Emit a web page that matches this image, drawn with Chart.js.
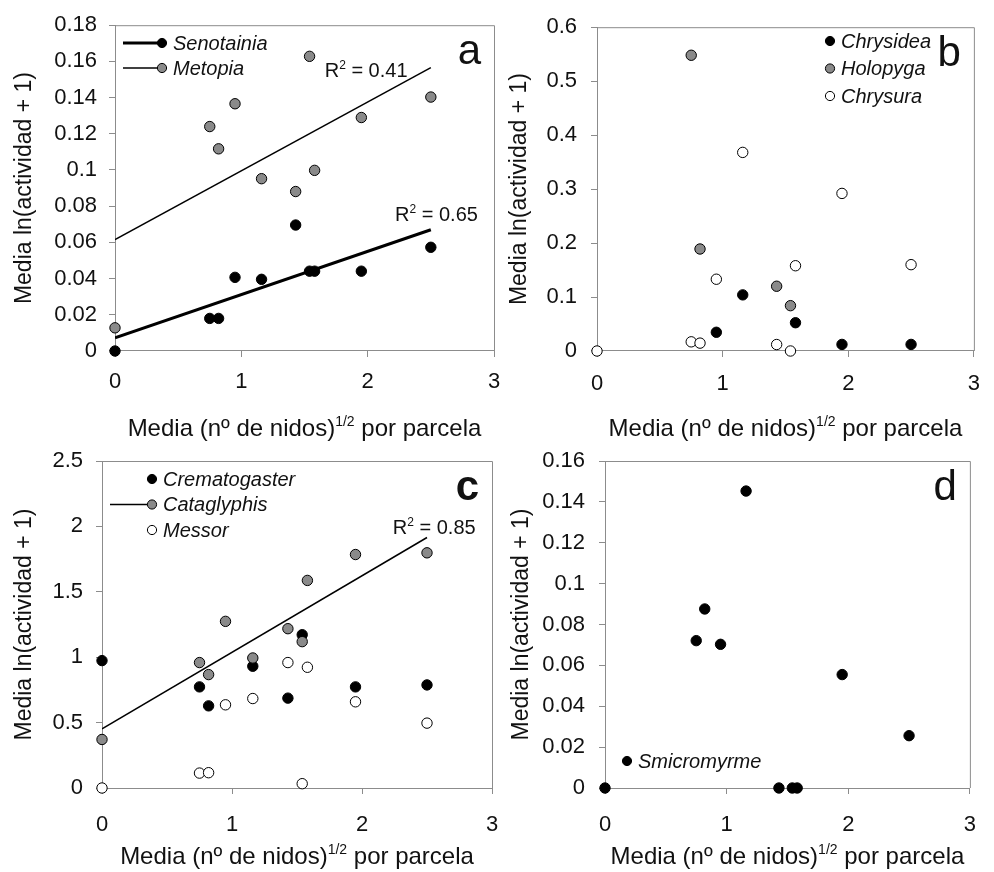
<!DOCTYPE html>
<html>
<head>
<meta charset="utf-8">
<script src="https://cdn.jsdelivr.net/npm/chart.js@4.4.1/dist/chart.umd.min.js"></script>
<style>
  html, body { margin: 0; padding: 0; background: #fff; }
  #wrap { position: relative; width: 994px; height: 872px; }
  #wrap canvas { position: absolute; left: 0; top: 0; }
</style>
</head>
<body>
<div id="wrap">
  <canvas id="chartA" width="994" height="872"></canvas>
  <canvas id="chartB" width="994" height="872"></canvas>
  <canvas id="chartC" width="994" height="872"></canvas>
  <canvas id="chartD" width="994" height="872"></canvas>
</div>
<script>
// x positions shared by every panel: mean (nests)^1/2 per plot
const sites = [0, 0.75, 0.82, 0.95, 1.16, 1.43, 1.54, 1.58, 1.95, 2.5];
const xTicks = [0, 1, 2, 3];
const trendX = [0, 2.5];

// a - parasitic flies
const senotainia = [0, 0.018, 0.018, 0.0407, 0.0396, 0.0696, 0.0441, 0.0441, 0.0441, 0.0573];
const metopia = [0.0128, 0.124, 0.1117, 0.1366, 0.0952, 0.0881, 0.1628, 0.0998, 0.129, 0.1403];
const senotainiaTrend = [0.0073, 0.067];
const metopiaTrend = [0.0615, 0.1566];
const yTicksA = [0, 0.02, 0.04, 0.06, 0.08, 0.1, 0.12, 0.14, 0.16, 0.18];

// b - cuckoo wasps
const chrysidea = [null, null, null, 0.0347, 0.104, null, null, 0.0524, 0.0122, 0.0122];
const holopyga = [null, 0.548, 0.189, null, null, 0.12, 0.084, null, null, null];
const chrysura = [0, 0.017, 0.0146, 0.133, 0.368, 0.012, 0, 0.158, 0.292, 0.16];
const yTicksB = [0, 0.1, 0.2, 0.3, 0.4, 0.5, 0.6];

// c - ants
const crematogaster = [0.974, 0.773, 0.628, null, 0.931, 0.687, 1.172, null, 0.773, 0.788];
const cataglyphis = [0.371, 0.959, 0.867, 1.274, 0.994, 1.218, 1.119, 1.587, 1.785, 1.798];
const messor = [0, 0.114, 0.117, 0.636, 0.684, 0.959, 0.033, 0.923, 0.659, 0.496];
const cataglyphisTrend = [0.453, 1.915];
const yTicksC = [0, 0.5, 1, 1.5, 2, 2.5];

// d - velvet ants
const smicromyrme = [0, 0.0721, 0.0876, 0.0703, 0.1453, 0, 0, 0, 0.0555, 0.0256];
const yTicksD = [0, 0.02, 0.04, 0.06, 0.08, 0.1, 0.12, 0.14, 0.16];

const FONT = "'Liberation Sans', Arial, sans-serif";
const AXIS = '#8c8c8c';
const GREY = '#8a8a8a';
const W = 994, H = 872;

Chart.defaults.font.family = FONT;
Chart.defaults.color = '#111';

function pts(xs, ys) {
  return xs.map((x, i) => ({ x: x, y: ys[i] })).filter(p => p.y !== null);
}

function markers(label, ys, fill, order) {
  return {
    type: 'scatter', label: label, data: pts(sites, ys),
    backgroundColor: fill, borderColor: '#000', borderWidth: 1,
    pointRadius: 5.2, pointHoverRadius: 5.2, clip: false, order: order
  };
}

function trend(label, ys, width) {
  return {
    type: 'line', label: label, data: pts(trendX, ys),
    borderColor: '#000', borderWidth: width, pointRadius: 0,
    fill: false, showLine: true, order: 10
  };
}

function supText(ctx, parts, x, y, align) {
  // parts: [text, isSup, font, raise]
  const widths = parts.map(p => { ctx.font = p[2]; return ctx.measureText(p[0]).width; });
  const total = widths.reduce((a, b) => a + b, 0);
  let cx = align === 'center' ? x - total / 2 : x;
  ctx.textAlign = 'left';
  parts.forEach((p, i) => {
    ctx.font = p[2];
    ctx.fillText(p[0], cx, p[1] ? y - p[3] : y);
    cx += widths[i];
  });
}

const panelDecor = {
  id: 'panelDecor',
  afterDraw(chart, args, opts) {
    const ctx = chart.ctx;
    const a = chart.chartArea;
    const xs = chart.scales.x, ys = chart.scales.y;
    ctx.save();
    // top and right frame
    ctx.strokeStyle = AXIS;
    ctx.lineWidth = 1;
    ctx.beginPath();
    ctx.moveTo(a.left, a.top + 0.5);
    ctx.lineTo(a.right + 0.5, a.top + 0.5);
    ctx.lineTo(a.right + 0.5, a.bottom);
    ctx.stroke();

    ctx.fillStyle = '#111';
    ctx.textBaseline = 'alphabetic';
    // x title with superscript
    supText(ctx, [
      ['Media (nº de nidos)', false, '24px ' + FONT],
      ['1/2', true, '14px ' + FONT, 10],
      [' por parcela', false, '24px ' + FONT]
    ], (a.left + a.right) / 2, opts.xTitleY, 'center');

    // panel letter
    ctx.font = (opts.letterBold ? 'bold ' : '') + '42px ' + FONT;
    ctx.textAlign = 'right';
    ctx.fillText(opts.letter, a.right - 13, a.top + 39);

    // R squared labels
    (opts.rLabels || []).forEach(r => {
      const px = xs.getPixelForValue(r.x), py = ys.getPixelForValue(r.y) + 7;
      supText(ctx, [
        ['R', false, '20px ' + FONT],
        ['2', true, '12px ' + FONT, 8],
        [' = ' + r.text, false, '20px ' + FONT]
      ], px, py, 'left');
    });

    // legend
    const lg = opts.legend;
    lg.items.forEach((it, i) => {
      const ds = chart.data.datasets[it.ds];
      const y = lg.y + i * lg.dy;
      if (it.lineFrom !== undefined) {
        ctx.strokeStyle = '#000';
        ctx.lineWidth = it.lineWidth;
        ctx.beginPath();
        ctx.moveTo(it.lineFrom, y);
        ctx.lineTo(lg.x, y);
        ctx.stroke();
      }
      ctx.beginPath();
      ctx.arc(lg.x, y, 4.6, 0, Math.PI * 2);
      ctx.fillStyle = ds.backgroundColor;
      ctx.fill();
      ctx.lineWidth = 1;
      ctx.strokeStyle = '#000';
      ctx.stroke();
      ctx.fillStyle = '#111';
      ctx.font = 'italic 20px ' + FONT;
      ctx.textAlign = 'left';
      ctx.textBaseline = 'middle';
      ctx.fillText(ds.label, lg.x + 11, y + 1);
    });
    ctx.restore();
  }
};

function makePanel(id, area, yTicks, yPad, xPad, titlePad, datasets, decor) {
  const yWidth = area.left - area.padLeft;
  const xHeight = 60;
  new Chart(document.getElementById(id), {
    type: 'scatter',
    data: { datasets: datasets },
    options: {
      responsive: false,
      animation: false,
      layout: {
        padding: {
          left: area.padLeft, top: area.top,
          right: W - area.right, bottom: H - area.bottom - xHeight
        }
      },
      plugins: { legend: { display: false }, tooltip: { enabled: false }, panelDecor: decor },
      scales: {
        x: {
          type: 'linear', min: 0, max: 3,
          afterBuildTicks: s => { s.ticks = xTicks.map(v => ({ value: v })); },
          afterFit: s => { s.height = xHeight; },
          grid: { display: true, drawOnChartArea: false, drawTicks: true, tickLength: 6, color: AXIS },
          border: { display: true, color: AXIS },
          ticks: { font: { size: 22 }, padding: xPad, color: '#111' }
        },
        y: {
          type: 'linear', min: yTicks[0], max: yTicks[yTicks.length - 1],
          afterBuildTicks: s => { s.ticks = yTicks.map(v => ({ value: v })); },
          afterFit: s => { s.width = yWidth; },
          grid: { display: true, drawOnChartArea: false, drawTicks: true, tickLength: 6, color: AXIS },
          border: { display: true, color: AXIS },
          ticks: { font: { size: 22 }, padding: yPad, color: '#111',
                   callback: v => String(Number(v.toFixed(2))) },
          title: { display: true, text: 'Media ln(actividad + 1)', font: { size: 23 },
                   color: '#111', padding: { top: titlePad, bottom: 0 } }
        }
      }
    },
    plugins: [panelDecor]
  });
}

// panel a
makePanel('chartA', { padLeft: 0, left: 115, right: 494, top: 23, bottom: 351 },
  yTicksA, 12, 12, 11, [
    markers('Senotainia', senotainia, '#000', 2),
    markers('Metopia', metopia, GREY, 1),
    trend('Senotainia trend', senotainiaTrend, 3),
    trend('Metopia trend', metopiaTrend, 1.5)
  ], {
    letter: 'a', xTitleY: 436,
    rLabels: [{ x: 1.66, y: 0.1555, text: '0.41' }, { x: 2.217, y: 0.0758, text: '0.65' }],
    legend: { x: 162, y: 43, dy: 25, items: [
      { ds: 0, lineFrom: 123, lineWidth: 3 },
      { ds: 1, lineFrom: 123, lineWidth: 1.5 }
    ] }
  });

// panel b
makePanel('chartB', { padLeft: 497, left: 597, right: 988, top: 23, bottom: 351 },
  yTicksB, 14, 14, 9, [
    markers('Chrysidea', chrysidea, '#000', 3),
    markers('Holopyga', holopyga, GREY, 2),
    markers('Chrysura', chrysura, '#fff', 1)
  ], {
    letter: 'b', xTitleY: 436,
    legend: { x: 830, y: 41, dy: 27.5, items: [{ ds: 0 }, { ds: 1 }, { ds: 2 }] }
  });

// panel c
makePanel('chartC', { padLeft: 0, left: 102, right: 492, top: 461, bottom: 788 },
  yTicksC, 13, 18, 11, [
    markers('Crematogaster', crematogaster, '#000', 3),
    markers('Cataglyphis', cataglyphis, GREY, 2),
    markers('Messor', messor, '#fff', 1),
    trend('Cataglyphis trend', cataglyphisTrend, 1.5)
  ], {
    letter: 'c', letterBold: true, xTitleY: 864,
    rLabels: [{ x: 2.237, y: 1.994, text: '0.85' }],
    legend: { x: 152, y: 479, dy: 25.5, items: [
      { ds: 0 }, { ds: 1, lineFrom: 110, lineWidth: 1.5 }, { ds: 2 }
    ] }
  });

// panel d
makePanel('chartD', { padLeft: 497, left: 605, right: 985, top: 461, bottom: 788 },
  yTicksD, 14, 18, 11, [
    markers('Smicromyrme', smicromyrme, '#000', 1)
  ], {
    letter: 'd', xTitleY: 864,
    legend: { x: 627, y: 761, dy: 0, items: [{ ds: 0 }] }
  });
</script>
</body>
</html>
